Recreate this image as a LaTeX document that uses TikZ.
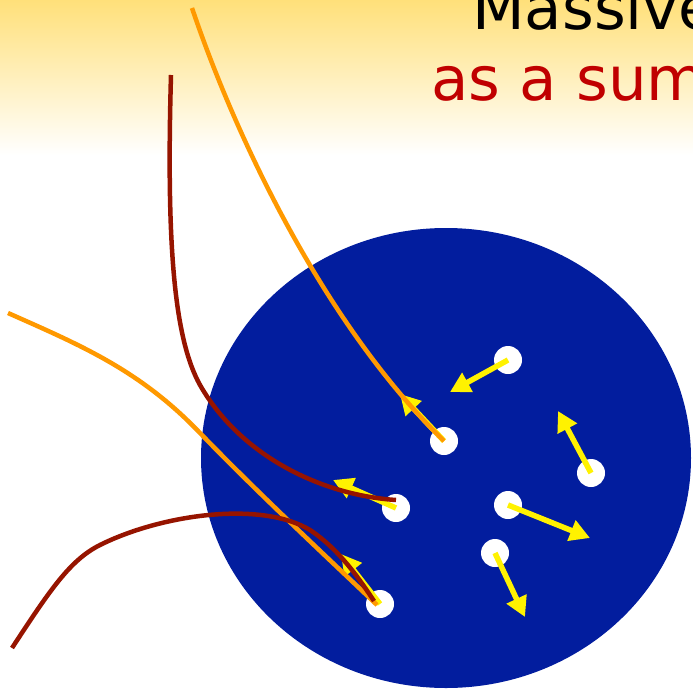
\documentclass[tikz,border=0pt]{standalone}
\usepackage{fontspec}
\setmainfont{DejaVu Sans}
\usetikzlibrary{arrows.meta}
\definecolor{bgyellow}{RGB}{255,224,122}
\definecolor{discblue}{RGB}{2,29,158}
\definecolor{orangeline}{RGB}{255,153,0}
\definecolor{redline}{RGB}{150,20,0}
\definecolor{titlered}{RGB}{192,0,0}
\begin{document}
\begin{tikzpicture}[x=1pt,y=-1pt,
  dot/.style={circle,fill=white,minimum size=28pt,inner sep=0pt},
  vel/.style={yellow,line width=5.5pt,-{Triangle[length=20pt,width=21pt]}},
  orangepath/.style={orangeline,line width=4.5pt},
  redpath/.style={redline,line width=4.5pt},
  title/.style={font=\fontsize{61}{71}\selectfont,anchor=base west,inner sep=0pt}]
\clip (0,0) rectangle (693,690);
\shade[top color=bgyellow,bottom color=white] (0pt,0pt) rectangle (693pt,-155pt);
\node[title,text=black] (t1) at (472,30) {Massive};
\node[title,text=titlered] (t2) at (431,101) {as a sum};
\fill[discblue] (446,458) ellipse [x radius=245, y radius=230];
% particles
\node[dot] (d1) at (508,360) {};
\node[dot] (d2) at (444,441) {};
\node[dot] (d3) at (591,473) {};
\node[dot] (d4) at (396,508) {};
\node[dot] (d5) at (508,505) {};
\node[dot] (d6) at (495,553) {};
\node[dot] (d7) at (380,604) {};
% velocity tips
\coordinate (v1) at (450,392);
\coordinate (v2) at (400,394);
\coordinate (v3) at (558,411);
\coordinate (v4) at (333,480);
\coordinate (v5) at (590,538);
\coordinate (v6) at (525,617);
\coordinate (v7) at (341,554);
\draw[vel] (d1.center) -- (v1);
\draw[vel] (d2.center) -- (v2);
\draw[vel] (d3.center) -- (v3);
\draw[vel] (d4.center) -- (v4);
\draw[vel] (d5.center) -- (v5);
\draw[vel] (d6.center) -- (v6);
\draw[vel] (d7.center) -- (v7);
% trajectory start points
\coordinate (o1) at (192,8);
\coordinate (o2) at (8,313);
\coordinate (r1) at (171,75);
\coordinate (r2) at (12,648);
% trajectories
\draw[orangepath] (o1) .. controls (240,150) and (330,330) .. (d2.center);
\draw[orangepath] (o2) .. controls (80,345) and (140,370) .. (200,433)
  .. controls (260,495) and (330,560) .. ([xshift=-3pt,yshift=-1pt]d7.center);
\draw[redpath] (r1) .. controls (166,250) and (175,340) .. (200,385)
  .. controls (240,455) and (320,495) .. ([yshift=8pt]d4.center);
\draw[redpath] (r2) .. controls (50,590) and (70,560) .. (100,545)
  .. controls (160,515) and (260,500) .. (310,530)
  .. controls (340,550) and (360,580) .. ([xshift=-6pt,yshift=3pt]d7.center);
\end{tikzpicture}
\end{document}
